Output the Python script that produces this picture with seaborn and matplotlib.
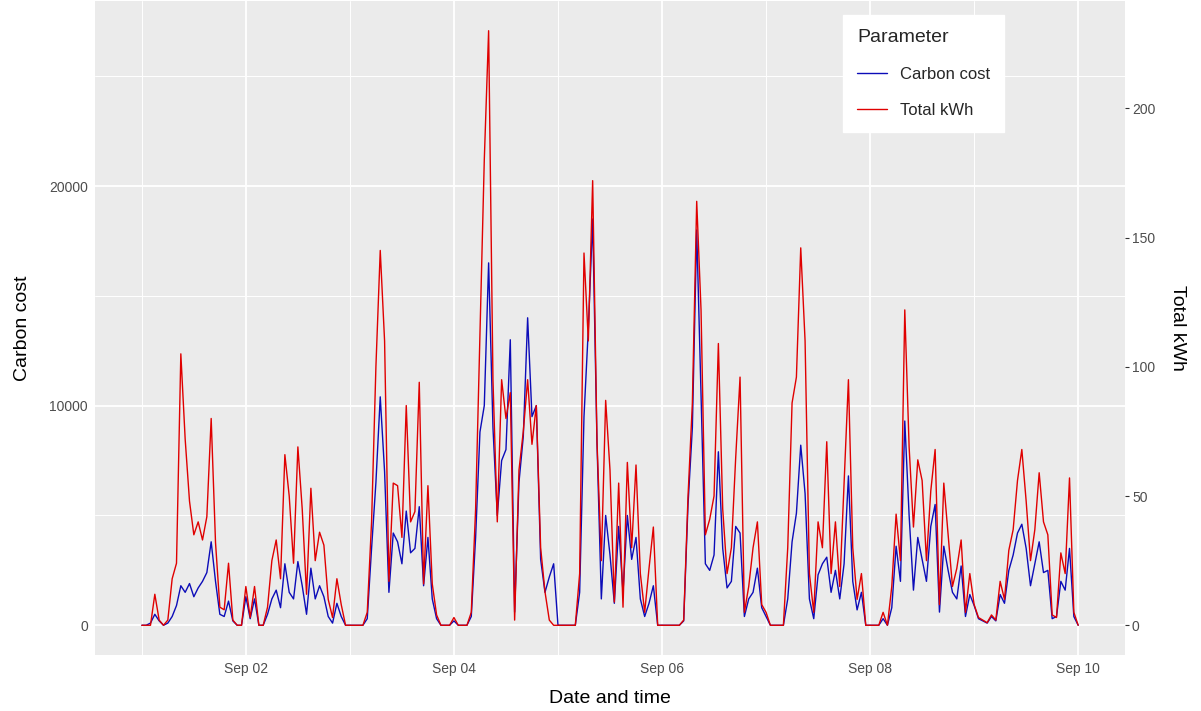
import numpy as np
import pandas as pd
import matplotlib
matplotlib.use("Agg")
import matplotlib.pyplot as plt
import matplotlib.dates as mdates
import seaborn as sns

# ---------------- data (hourly readings) ----------------
start_time = "2021-09-01 00:00"

kwh_sep01 = [0, 0, 0, 12, 2, 0, 2, 18, 24, 105, 72, 48, 35, 40, 33, 42, 80, 32, 7, 6, 24, 2, 0, 0]
kwh_sep02 = [15, 3, 15, 0, 0, 7, 25, 33, 18, 66, 50, 24, 69, 45, 12, 53, 25, 36, 31, 10, 3, 18, 8, 0]
kwh_sep03 = [0, 0, 0, 0, 5, 40, 100, 145, 110, 17, 55, 54, 34, 85, 40, 44, 94, 16, 54, 16, 4, 0, 0, 0]
kwh_sep04 = [3, 0, 0, 0, 5, 45, 112, 180, 230, 95, 40, 95, 80, 90, 2, 60, 75, 95, 70, 85, 30, 13, 2, 0]
kwh_sep05 = [0, 0, 0, 0, 0, 20, 144, 110, 172, 71, 25, 87, 60, 9, 55, 7, 63, 30, 62, 20, 5, 22, 38, 0]
kwh_sep06 = [0, 0, 0, 0, 0, 2, 50, 86, 164, 122, 35, 41, 50, 109, 45, 20, 30, 65, 96, 5, 15, 30, 40, 8]
kwh_sep07 = [5, 0, 0, 0, 0, 30, 86, 96, 146, 110, 20, 5, 40, 30, 71, 20, 40, 15, 55, 95, 30, 10, 20, 0]
kwh_sep08 = [0, 0, 0, 5, 0, 15, 43, 25, 122, 69, 38, 64, 56, 25, 52, 68, 8, 55, 35, 15, 22, 33, 5, 20]
kwh_sep09 = [8, 3, 2, 1, 4, 2, 17, 10, 29, 37, 56, 68, 48, 25, 37, 59, 40, 35, 4, 3, 28, 20, 57, 5, 0]

carbon_sep01 = [0, 0, 100, 500, 200, 0, 100, 400, 900, 1800, 1500, 1900, 1300, 1700, 2000, 2400,
                3800, 2000, 500, 400, 1100, 200, 0, 0]
carbon_sep02 = [1300, 300, 1200, 0, 0, 500, 1200, 1600, 800, 2800, 1500, 1200, 2900, 1800, 500, 2600,
                1200, 1800, 1300, 400, 100, 1000, 400, 0]
carbon_sep03 = [0, 0, 0, 0, 300, 3500, 6500, 10400, 7000, 1500, 4200, 3800, 2800, 5200, 3300, 3500,
                5400, 1800, 4000, 1200, 300, 0, 0, 0]
carbon_sep04 = [200, 0, 0, 0, 400, 4000, 8800, 10000, 16500, 9000, 5000, 7500, 8000, 13000, 600, 6500,
                8600, 14000, 9500, 10000, 3000, 1500, 2200, 2800]
carbon_sep05 = [0, 0, 0, 0, 0, 1500, 9500, 13500, 18500, 8300, 1200, 5000, 3200, 1000, 4500, 1500,
                5000, 3000, 4000, 1200, 400, 1000, 1800, 0]
carbon_sep06 = [0, 0, 0, 0, 0, 200, 5500, 9000, 18000, 10500, 2800, 2500, 3200, 7900, 3500, 1700,
                2000, 4500, 4200, 400, 1200, 1500, 2600, 800]
carbon_sep07 = [400, 0, 0, 0, 0, 1200, 3800, 5100, 8200, 6000, 1200, 300, 2300, 2800, 3100, 1500,
                2500, 1200, 2800, 6800, 2000, 700, 1500, 0]
carbon_sep08 = [0, 0, 0, 300, 0, 800, 3600, 2000, 9300, 5000, 1600, 4000, 3000, 2000, 4500, 5500,
                600, 3600, 2500, 1500, 1200, 2700, 400, 1400]
carbon_sep09 = [900, 300, 200, 100, 400, 200, 1400, 1000, 2500, 3200, 4200, 4600, 3500, 1800, 2800, 3800,
                2400, 2500, 300, 400, 2000, 1600, 3500, 400, 0]

series_names = ["Carbon cost", "Total kWh"]
series_colors = ["#0c0cb8", "#e00000"]
kwh_to_carbon = 117.7          # secondary-axis factor (carbon units per kWh)
left_ticks = [0, 10000, 20000]
right_ticks = [0, 50, 100, 150, 200]

kwh = np.array(kwh_sep01 + kwh_sep02 + kwh_sep03 + kwh_sep04 + kwh_sep05 +
               kwh_sep06 + kwh_sep07 + kwh_sep08 + kwh_sep09, dtype=float)
carbon = np.array(carbon_sep01 + carbon_sep02 + carbon_sep03 + carbon_sep04 + carbon_sep05 +
                  carbon_sep06 + carbon_sep07 + carbon_sep08 + carbon_sep09, dtype=float)
n = len(kwh)
times = pd.date_range(start_time, periods=n, freq="h")

df = pd.DataFrame({
    "time": np.concatenate([times.values, times.values]),
    "Parameter": [series_names[0]] * n + [series_names[1]] * n,
    "value": np.concatenate([carbon, kwh * kwh_to_carbon]),
})

# ---------------- style ----------------
sns.set_theme(style="darkgrid", rc={
    "axes.facecolor": "#EBEBEB",
    "grid.color": "white",
})
plt.rcParams["font.family"] = ["Liberation Sans", "DejaVu Sans"]

fig = plt.figure(figsize=(12.01, 7.11), dpi=100)
ax = fig.add_axes([95 / 1201, 1 - 655 / 711, 1030 / 1201, 654 / 711])

sns.lineplot(data=df, x="time", y="value", hue="Parameter",
             hue_order=series_names, palette=dict(zip(series_names, series_colors)),
             linewidth=1.0, ax=ax, estimator=None)

# limits with ggplot-like 5% expansion
vmax = df["value"].max()
ax.set_ylim(-0.05 * vmax, 1.05 * vmax)
t0, t1 = times[0], times[-1]
span = t1 - t0
ax.set_xlim(t0 - 0.05 * span, t1 + 0.05 * span)

# grid
ax.xaxis.set_major_locator(mdates.DayLocator(bymonthday=[2, 4, 6, 8, 10]))
ax.xaxis.set_minor_locator(mdates.DayLocator(bymonthday=[1, 3, 5, 7, 9]))
ax.xaxis.set_major_formatter(mdates.DateFormatter("%b %d"))
ax.set_yticks(left_ticks)
ax.set_yticks([5000, 15000, 25000], minor=True)
ax.grid(which="major", color="white", linewidth=1.3)
ax.grid(which="minor", color="white", linewidth=0.7)
ax.set_axisbelow(True)
for s in ax.spines.values():
    s.set_visible(False)

ax.tick_params(axis="both", which="major", length=3, width=0.8, color="#333333",
               labelsize=10, labelcolor="#4D4D4D", pad=2)
ax.tick_params(axis="both", which="minor", length=0)

ax.set_xlabel("Date and time", fontsize=14, color="black", labelpad=10)
ax.set_ylabel("Carbon cost", fontsize=14, color="black", labelpad=13)

sec = ax.secondary_yaxis("right", functions=(lambda c: c / kwh_to_carbon,
                                             lambda v: v * kwh_to_carbon))
sec.set_yticks(right_ticks)
for s in sec.spines.values():
    s.set_visible(False)
sec.tick_params(axis="y", length=3, width=0.8, color="#333333",
                labelsize=10, labelcolor="#4D4D4D", pad=2)
sec.set_ylabel("Total kWh", fontsize=14, color="black", rotation=270, labelpad=22)

# legend
handles, labels = ax.get_legend_handles_labels()
if ax.get_legend() is not None:
    ax.get_legend().remove()
leg = ax.legend(handles, labels, title="Parameter", loc="upper left",
                bbox_to_anchor=(843 / 1201, 1 - 15 / 711), bbox_transform=fig.transFigure,
                borderaxespad=0.0,
                frameon=True, fancybox=False, framealpha=1.0, edgecolor="white",
                facecolor="white", fontsize=12, title_fontsize=14,
                labelspacing=1.25, handlelength=1.8, handletextpad=0.75,
                borderpad=0.85, alignment="left")
for line in leg.get_lines():
    line.set_linewidth(1.0)

fig.savefig("out.png", dpi=100)
